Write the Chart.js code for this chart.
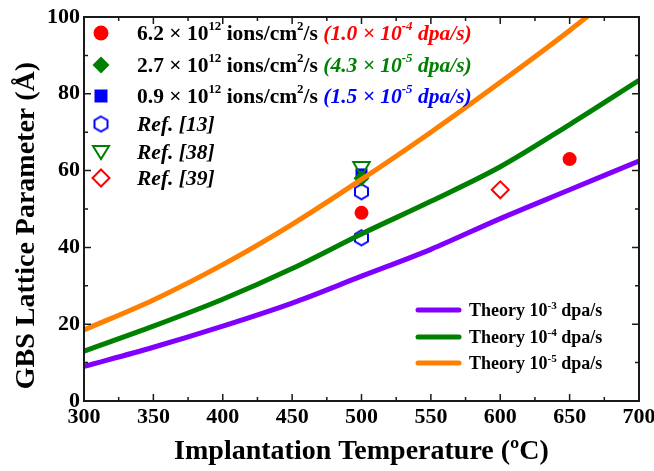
<!DOCTYPE html>
<html>
<head>
<meta charset="utf-8">
<script src="https://cdn.jsdelivr.net/npm/chart.js@4/dist/chart.umd.min.js"></script>
<style>
  html, body { margin: 0; padding: 0; background: #fff; }
  #wrap { width: 654px; height: 471px; }
</style>
</head>
<body>
<div id="wrap"><canvas id="chart"></canvas></div>
<script>
// temperatures for the theory curves (oC)
const temps = [300, 350, 400, 450, 500, 550, 600, 650, 700];
const theory3 = [9, 14, 19.5, 25.5, 32.5, 39.5, 47.5, 55, 62.5];
const theory4 = [13, 19.5, 26.5, 34.5, 43.5, 52, 61, 72, 83.5];
const theory5 = [18.5, 26.3, 35.5, 46, 57.7, 70, 83, 96.5, 111];

// measured points
const highFluxT = [500, 650], highFluxV = [49, 63];
const midFluxT = [500], midFluxV = [58];
const lowFluxT = [500], lowFluxV = [59];
const ref13T = [500, 500], ref13V = [54.5, 42.5];
const ref38T = [500], ref38V = [61];
const ref39T = [600], ref39V = [55];

const xTicks = [300, 350, 400, 450, 500, 550, 600, 650, 700];
const yTicks = [0, 20, 40, 60, 80, 100];

const RED = '#ff0000', GREEN = '#008000', BLUE = '#0000ff';
const PURPLE = '#8000ff', ORANGE = '#ff8000';
const FONT = '"Liberation Serif", "Times New Roman", serif';

const pts = (xs, ys) => xs.map((x, i) => ({ x: x, y: ys[i] }));

function hexagon(r, color, lw) {
    const s = Math.ceil(2 * r + lw + 2);
    const c = document.createElement('canvas');
    c.width = s; c.height = s;
    const g = c.getContext('2d');
    g.strokeStyle = color;
    g.lineWidth = lw;
    g.beginPath();
    for (let i = 0; i < 6; i++) {
        const a = (-90 + 60 * i) * Math.PI / 180;
        const px = s / 2 + r * Math.cos(a), py = s / 2 + r * Math.sin(a);
        if (i === 0) g.moveTo(px, py); else g.lineTo(px, py);
    }
    g.closePath();
    g.stroke();
    return c;
}
const hexImg = hexagon(7.5, BLUE, 2);

function theoryLine(label, data, color) {
    return {
        label: label, data: pts(temps, data), borderColor: color, backgroundColor: color,
        borderWidth: 5, pointRadius: 0, cubicInterpolationMode: 'monotone', clip: 0, order: 0
    };
}

function markers(label, data, style, opts) {
    return Object.assign({
        label: label, data: data, showLine: false, pointStyle: style, order: 1
    }, opts);
}

// legend marker, drawn like the plotted ones
function legendMark(ctx, type, x, y) {
    ctx.save();
    ctx.lineWidth = 2;
    ctx.beginPath();
    if (type === 'circle') {
        ctx.fillStyle = RED;
        ctx.arc(x, y, 7.5, 0, Math.PI * 2);
        ctx.fill();
    } else if (type === 'diamond') {
        ctx.fillStyle = GREEN;
        ctx.moveTo(x, y - 8.5); ctx.lineTo(x + 8.5, y); ctx.lineTo(x, y + 8.5); ctx.lineTo(x - 8.5, y);
        ctx.closePath(); ctx.fill();
    } else if (type === 'square') {
        ctx.fillStyle = BLUE;
        ctx.fillRect(x - 6.5, y - 6.5, 13, 13);
    } else if (type === 'hex') {
        ctx.drawImage(hexImg, x - hexImg.width / 2, y - hexImg.height / 2);
    } else if (type === 'tri') {
        ctx.strokeStyle = GREEN;
        ctx.moveTo(x - 8, y - 6); ctx.lineTo(x + 8, y - 6); ctx.lineTo(x, y + 7);
        ctx.closePath(); ctx.stroke();
    } else if (type === 'odiamond') {
        ctx.strokeStyle = RED;
        ctx.moveTo(x, y - 8.5); ctx.lineTo(x + 8.5, y); ctx.lineTo(x, y + 8.5); ctx.lineTo(x - 8.5, y);
        ctx.closePath(); ctx.stroke();
    }
    ctx.restore();
}

// text with superscripts / italics
function richText(ctx, x, y, parts, size, supScale, supRaise) {
    for (const p of parts) {
        const fs = p.sup ? size * supScale : size;
        ctx.font = (p.it ? 'italic ' : '') + 'bold ' + fs + 'px ' + FONT;
        ctx.fillStyle = p.c || '#000';
        ctx.fillText(p.t, x, y - (p.sup ? size * supRaise : 0));
        x += ctx.measureText(p.t).width;
    }
}

const fluxLegend = [
    { mark: 'circle', y: 33, parts: [{ t: '6.2 × 10' }, { t: '12', sup: 1 }, { t: ' ions/cm' }, { t: '2', sup: 1 }, { t: '/s ' },
        { t: '(1.0 × 10', it: 1, c: RED }, { t: '-4', it: 1, sup: 1, c: RED }, { t: ' dpa/s)', it: 1, c: RED }] },
    { mark: 'diamond', y: 65, parts: [{ t: '2.7 × 10' }, { t: '12', sup: 1 }, { t: ' ions/cm' }, { t: '2', sup: 1 }, { t: '/s ' },
        { t: '(4.3 × 10', it: 1, c: GREEN }, { t: '-5', it: 1, sup: 1, c: GREEN }, { t: ' dpa/s)', it: 1, c: GREEN }] },
    { mark: 'square', y: 96, parts: [{ t: '0.9 × 10' }, { t: '12', sup: 1 }, { t: ' ions/cm' }, { t: '2', sup: 1 }, { t: '/s ' },
        { t: '(1.5 × 10', it: 1, c: BLUE }, { t: '-5', it: 1, sup: 1, c: BLUE }, { t: ' dpa/s)', it: 1, c: BLUE }] },
    { mark: 'hex', y: 124, parts: [{ t: 'Ref. [13]', it: 1 }] },
    { mark: 'tri', y: 152, parts: [{ t: 'Ref. [38]', it: 1 }] },
    { mark: 'odiamond', y: 178, parts: [{ t: 'Ref. [39]', it: 1 }] }
];

const theoryLegend = [
    { color: PURPLE, y: 310, exp: '-3' },
    { color: GREEN, y: 337, exp: '-4' },
    { color: ORANGE, y: 363, exp: '-5' }
];

const framePlugin = {
    id: 'frame',
    afterDatasetsDraw(chart) {
        const ctx = chart.ctx, a = chart.chartArea;
        const xs = chart.scales.x, ys = chart.scales.y;
        ctx.save();
        ctx.strokeStyle = '#1a1a1a';
        ctx.lineWidth = 2;
        ctx.strokeRect(a.left, a.top, a.right - a.left, a.bottom - a.top);
        ctx.lineWidth = 1.5;
        ctx.beginPath();
        for (let v = 300; v <= 700; v += 25) {
            const px = xs.getPixelForValue(v), len = v % 50 === 0 ? 7 : 4;
            ctx.moveTo(px, a.bottom); ctx.lineTo(px, a.bottom - len);
            ctx.moveTo(px, a.top); ctx.lineTo(px, a.top + len);
        }
        for (let v = 0; v <= 100; v += 10) {
            const py = ys.getPixelForValue(v), len = v % 20 === 0 ? 7 : 4;
            ctx.moveTo(a.left, py); ctx.lineTo(a.left + len, py);
            ctx.moveTo(a.right, py); ctx.lineTo(a.right - len, py);
        }
        ctx.stroke();
        ctx.restore();
    },
    afterDraw(chart) {
        const ctx = chart.ctx;
        ctx.save();
        ctx.textBaseline = 'alphabetic';
        ctx.textAlign = 'left';
        fluxLegend.forEach(r => {
            legendMark(ctx, r.mark, 101, r.y);
            richText(ctx, 137, r.y + 7, r.parts, 21.5, 0.6, 0.48);
        });
        theoryLegend.forEach(r => {
            ctx.strokeStyle = r.color;
            ctx.lineWidth = 5;
            ctx.lineCap = 'round';
            ctx.beginPath();
            ctx.moveTo(418, r.y); ctx.lineTo(459, r.y);
            ctx.stroke();
            richText(ctx, 469, r.y + 6, [{ t: 'Theory 10' }, { t: r.exp, sup: 1 }, { t: ' dpa/s' }], 18, 0.62, 0.38);
        });
        // y axis title
        ctx.translate(27, 225.5);
        ctx.rotate(-Math.PI / 2);
        ctx.textAlign = 'center';
        ctx.textBaseline = 'middle';
        ctx.fillStyle = '#000';
        ctx.font = 'bold 28px ' + FONT;
        ctx.fillText('GBS Lattice Parameter (Å)', 0, 0);
        ctx.restore();
    }
};

new Chart(document.getElementById('chart'), {
    type: 'line',
    data: {
        datasets: [
            theoryLine('Theory 10^-3 dpa/s', theory3, PURPLE),
            theoryLine('Theory 10^-4 dpa/s', theory4, GREEN),
            theoryLine('Theory 10^-5 dpa/s', theory5, ORANGE),
            markers('Ref. [38]', pts(ref38T, ref38V), 'triangle',
                { rotation: 180, pointRadius: 9.5, borderColor: GREEN, backgroundColor: 'rgba(0,0,0,0)', borderWidth: 2 }),
            markers('6.2e12', pts(highFluxT, highFluxV), 'circle',
                { pointRadius: 7, borderWidth: 0, backgroundColor: RED, borderColor: RED }),
            markers('2.7e12', pts(midFluxT, midFluxV), 'rectRot',
                { pointRadius: 8, borderWidth: 0, backgroundColor: GREEN, borderColor: GREEN }),
            markers('0.9e12', pts(lowFluxT, lowFluxV), 'rect',
                { pointRadius: 8.5, borderWidth: 0, backgroundColor: BLUE, borderColor: BLUE }),
            markers('Ref. [13]', pts(ref13T, ref13V), hexImg,
                { pointRadius: 8, borderColor: BLUE, backgroundColor: BLUE }),
            markers('Ref. [39]', pts(ref39T, ref39V), 'rectRot',
                { pointRadius: 8.5, borderColor: RED, backgroundColor: 'rgba(0,0,0,0)', borderWidth: 2 })
        ]
    },
    options: {
        responsive: true,
        maintainAspectRatio: false,
        animation: false,
        devicePixelRatio: 1,
        layout: { padding: { top: 17, right: 15, left: 0, bottom: 0 } },
        plugins: { legend: { display: false }, tooltip: { enabled: false } },
        scales: {
            x: {
                type: 'linear', min: 300, max: 700,
                grid: { display: false, drawTicks: false },
                border: { display: false },
                afterBuildTicks: s => { s.ticks = xTicks.map(v => ({ value: v })); },
                afterFit: s => { s.height = 70; s.paddingLeft = 0; s.paddingRight = 0; },
                ticks: { color: '#000', padding: 3, maxRotation: 0, autoSkip: false,
                    font: { family: FONT, size: 22, weight: 'bold' } },
                title: { display: true, text: 'Implantation Temperature (ºC)', color: '#000',
                    padding: { top: 0, bottom: 2 }, font: { family: FONT, size: 28, weight: 'bold' } }
            },
            y: {
                min: 0, max: 100,
                grid: { display: false, drawTicks: false },
                border: { display: false },
                afterBuildTicks: s => { s.ticks = yTicks.map(v => ({ value: v })); },
                afterFit: s => { s.width = 84; s.paddingTop = 0; s.paddingBottom = 0; },
                ticks: { color: '#000', padding: 4,
                    font: { family: FONT, size: 22, weight: 'bold' } },
                title: { display: false }
            }
        }
    },
    plugins: [framePlugin]
});
</script>
</body>
</html>
